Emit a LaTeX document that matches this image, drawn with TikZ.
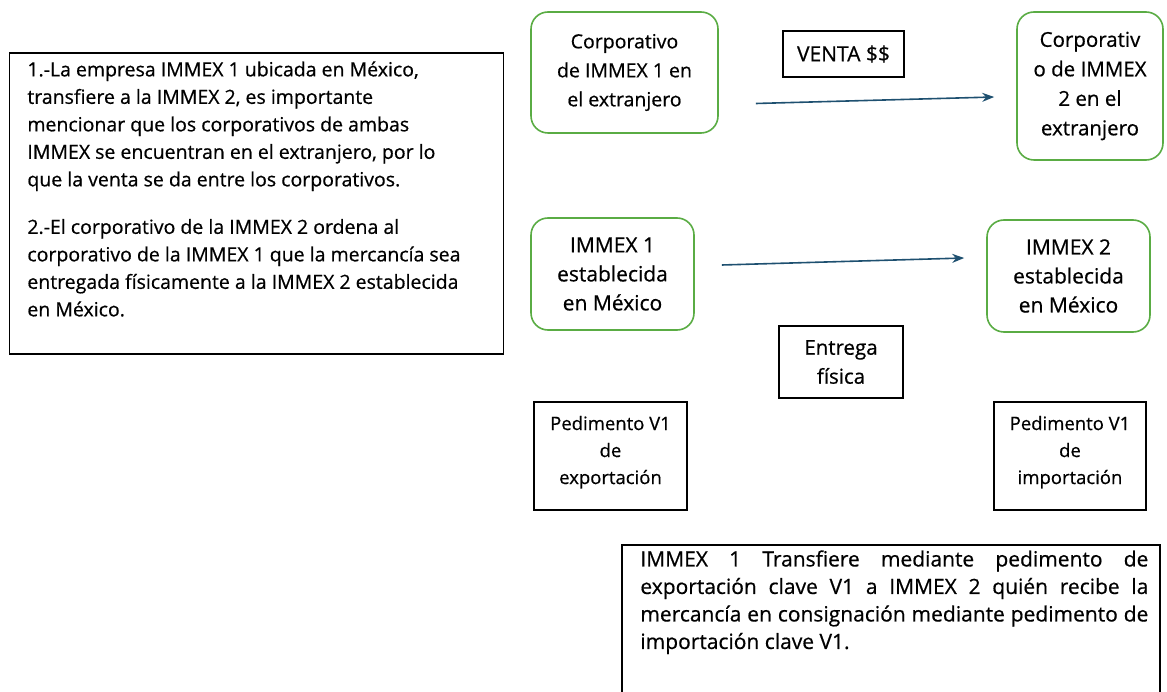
\documentclass[tikz,border=0pt]{standalone}
\usepackage{fontspec}
\setmainfont{Open Sans}[FakeBold=0.6]
\usetikzlibrary{arrows.meta,positioning}
\definecolor{corpgreen}{RGB}{90,172,68}
\definecolor{flowblue}{RGB}{30,80,112}

\begin{document}
\begin{tikzpicture}[x=1pt, y=-1pt, thick]
\tikzset{
  corp/.style={draw=corpgreen, line width=1.6pt, rounded corners=17pt, align=center, inner sep=0pt,
    font=\fontsize{19.5}{29}\selectfont},
  plainbox/.style={draw=black, line width=1.5pt, inner sep=0pt},
  flow/.style={->, >={Stealth[length=12pt,width=9pt]}, draw=flowblue, line width=1.6pt}
}
\useasboundingbox (0,0) rectangle (1167,692);
%%%%% Left explanation %%%%%
\node[plainbox, minimum width=494pt, minimum height=301pt] (nota) at (256.5,203.5) {};
\node[anchor=north west, align=left, inner sep=0pt, font=\fontsize{19.5}{27.5}\selectfont] (notatxt) at (27,61)
  {1.-La empresa IMMEX 1 ubicada en México,\\
   transfiere a la IMMEX 2, es importante\\
   mencionar que los corporativos de ambas\\
   IMMEX se encuentran en el extranjero, por lo\\
   que la venta se da entre los corporativos.\\[20pt]
   2.-El corporativo de la IMMEX 2 ordena al\\
   corporativo de la IMMEX 1 que la mercancía sea\\
   entregada físicamente a la IMMEX 2 establecida\\
   en México.};
%%%%% Corporativos %%%%%
\node[corp, minimum width=187pt, minimum height=121pt] (corpA) at (624.5,72.5)
  {Corporativo\\ de IMMEX 1 en\\ el extranjero};
\node[corp, minimum width=146pt, minimum height=148pt, font=\fontsize{20.5}{29.5}\selectfont] (corpB) at (1090,86)
  {Corporativ\\ o de IMMEX\\ 2 en el\\ extranjero};
\node[plainbox, minimum width=121pt, minimum height=46pt, font=\fontsize{21}{24}\selectfont] (venta) at (843.5,54)
  {VENTA \$\$};
\draw[flow] ([shift={(37,31)}]corpA.east) -- ([shift={(-22,11)}]corpB.west);
%%%%% IMMEX en Mexico %%%%%
\node[corp, minimum width=163pt, minimum height=112pt, font=\fontsize{21}{29}\selectfont] (immA) at (612.5,274)
  {IMMEX 1\\ establecida\\ en México};
\node[corp, minimum width=163pt, minimum height=112pt, font=\fontsize{21}{29}\selectfont] (immB) at (1068.5,276)
  {IMMEX 2\\ establecida\\ en México};
\draw[flow] ([shift={(27,-9)}]immA.east) -- ([shift={(-22,-18)}]immB.west);
\node[plainbox, align=center, minimum width=124pt, minimum height=72pt, font=\fontsize{20.5}{29}\selectfont] (entrega) at (841,362)
  {Entrega\\ física};
%%%%% Pedimentos %%%%%
\node[plainbox, align=center, minimum width=153pt, minimum height=108pt, font=\fontsize{18.5}{27}\selectfont] (pedexp) at (610.5,456)
  {Pedimento V1\\ de\\ exportación\\[-15pt]\mbox{}};
\node[plainbox, align=center, minimum width=152pt, minimum height=108pt, font=\fontsize{18.5}{27}\selectfont] (pedimp) at (1070,456)
  {Pedimento V1\\ de\\ importación\\[-15pt]\mbox{}};
%%%%% Resumen %%%%%
\node[plainbox, minimum width=538pt, minimum height=148pt] (resumen) at (891,619) {};
\node[anchor=north west, text width=508pt, align=justify, inner sep=0pt, font=\fontsize{21}{27.5}\selectfont] (resumentxt) at (640,550)
  {\hyphenpenalty=10000 IMMEX 1 Transfiere mediante pedimento de\linebreak exportación clave V1 a IMMEX 2 quién recibe la\linebreak mercancía en consignación mediante pedimento de\linebreak importación clave V1.};
\end{tikzpicture}
\end{document}
